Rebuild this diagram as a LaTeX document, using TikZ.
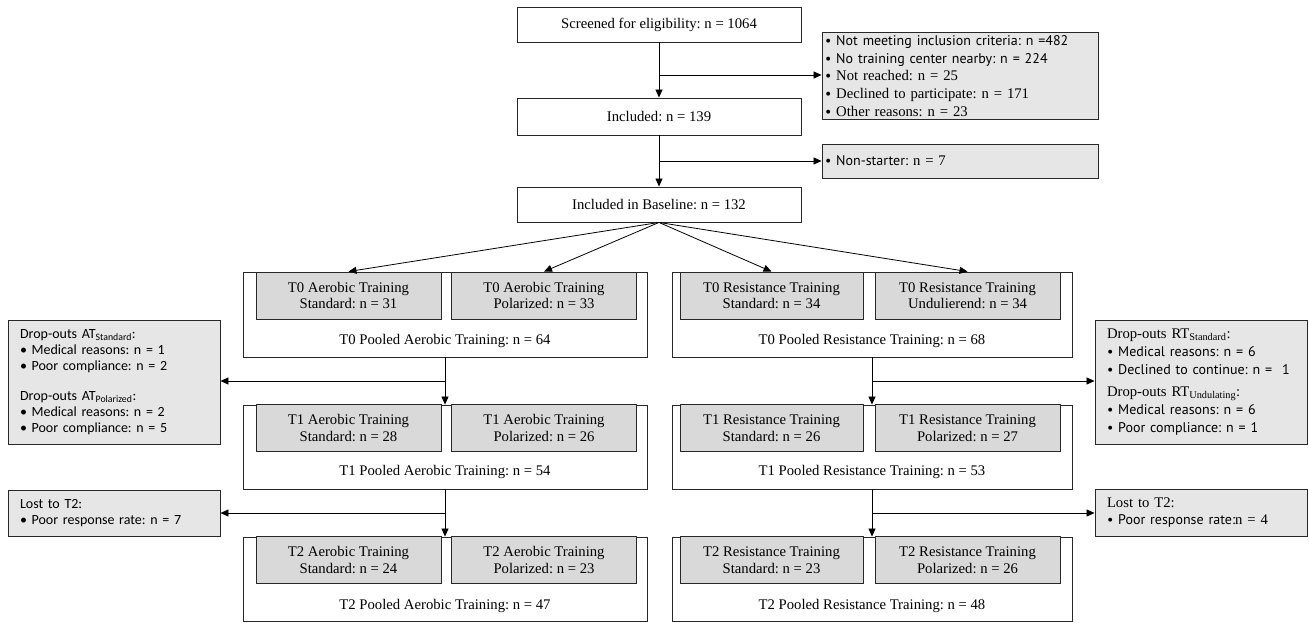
\documentclass[tikz,border=0pt]{standalone}
\usepackage{fontspec}
\setmainfont{Liberation Serif}
\newfontfamily\calfont{Carlito}
\newfontfamily\myfont{PT Sans}
\newcommand{\mysans}{\myfont\fontsize{14}{16}\selectfont}
\usetikzlibrary{arrows.meta}
\definecolor{sidegray}{RGB}{230,230,230}
\definecolor{innergray}{RGB}{217,217,217}
\definecolor{edge}{RGB}{40,40,40}
\frenchspacing
\begin{document}
\frenchspacing
\begin{tikzpicture}[x=1pt,y=-1pt,
  every node/.style={font=\fontsize{14.7}{16.5}\selectfont},
  wbox/.style={draw=edge, line width=0.9pt, fill=white, inner sep=0pt, align=center},
  ibox/.style={draw=edge, line width=0.9pt, fill=innergray, inner sep=0pt, align=center, minimum width=185pt, minimum height=47pt},
  gbox/.style={draw=edge, line width=0.9pt, fill=sidegray, inner sep=3pt, align=left},
  arr/.style={line width=0.8pt, -{Triangle[length=8pt,width=7pt]}},
  ln/.style={line width=0.8pt}]
\useasboundingbox (0,0) rectangle (1309,623);

% top chain
\node[wbox, minimum width=284pt, minimum height=35pt] (scr) at (659,24.5) {Screened for eligibility: n = 1064};
\node[wbox, minimum width=284pt, minimum height=37pt] (inc) at (659,116.5) {Included: n = 139};
\node[wbox, minimum width=284pt, minimum height=35pt] (base) at (659,204.5) {Included in Baseline: n = 132};

\node[gbox, text width=270pt, minimum height=86pt, font=\fontsize{14.7}{17.7}\selectfont] (excl) at (960,76)
 {{\mysans • Not meeting inclusion criteria: n =482}\\
  {\mysans • No training center nearby: n = 224}\\
  {\mysans •} Not reached: n = 25\\
  {\mysans •} Declined to participate: n = 171\\
  {\mysans •} Other reasons: n = 23};
\node[gbox, text width=270pt, minimum height=34pt] (nonst) at (960,161)
 {{\mysans • Non-starter:} n = 7};

\coordinate (b1) at (659,75);
\coordinate (b2) at (659,161);
\draw[arr] (scr.south) -- (inc.north);
\draw[arr] (b1) -- (excl.west |- b1);
\draw[arr] (inc.south) -- (base.north);
\draw[arr] (b2) -- (nonst.west |- b2);

% T0 outer boxes
\node[wbox, minimum width=404pt, minimum height=85pt] (oa0) at (445,314.5) {};
\node[wbox, minimum width=400pt, minimum height=85pt] (or0) at (872,314.5) {};
\node (pa0) at (445,341) {T0 Pooled Aerobic Training: n = 64};
\node (pr0) at (872,341) {T0 Pooled Resistance Training: n = 68};
\node[ibox] (a0s) at (348.5,295.5) {T0 Aerobic Training\\Standard: n = 31};
\node[ibox] (a0p) at (544,295.5) {T0 Aerobic Training\\Polarized: n = 33};
\node[ibox, minimum width=183pt] (r0s) at (771.5,295.5) {T0 Resistance Training\\Standard: n = 34};
\node[ibox] (r0u) at (967.5,295.5) {T0 Resistance Training\\Undulierend: n = 34};

\draw[arr] (base.south) -- (a0s.north);
\draw[arr] (base.south) -- (a0p.north);
\draw[arr] (base.south) -- (r0s.north);
\draw[arr] (base.south) -- (r0u.north);

% T1
\node[wbox, minimum width=404pt, minimum height=84pt] (oa1) at (445,447) {};
\node[wbox, minimum width=400pt, minimum height=84pt] (or1) at (872,447) {};
\node (pa1) at (445,472) {T1 Pooled Aerobic Training: n = 54};
\node (pr1) at (872,472) {T1 Pooled Resistance Training: n = 53};
\node[ibox] (a1s) at (348.5,428) {T1 Aerobic Training\\Standard: n = 28};
\node[ibox] (a1p) at (544,428) {T1 Aerobic Training\\Polarized: n = 26};
\node[ibox, minimum width=183pt] (r1s) at (771.5,428) {T1 Resistance Training\\Standard: n = 26};
\node[ibox] (r1p) at (967.5,428) {T1 Resistance Training\\Polarized: n = 27};

% T2
\node[wbox, minimum width=404pt, minimum height=84pt] (oa2) at (445,579) {};
\node[wbox, minimum width=400pt, minimum height=84pt] (or2) at (872,579) {};
\node (pa2) at (445,606) {T2 Pooled Aerobic Training: n = 47};
\node (pr2) at (872,606) {T2 Pooled Resistance Training: n = 48};
\node[ibox] (a2s) at (348.5,560) {T2 Aerobic Training\\Standard: n = 24};
\node[ibox] (a2p) at (544,560) {T2 Aerobic Training\\Polarized: n = 23};
\node[ibox, minimum width=183pt] (r2s) at (771.5,560) {T2 Resistance Training\\Standard: n = 23};
\node[ibox] (r2p) at (967.5,560) {T2 Resistance Training\\Polarized: n = 26};

% side boxes
\node[gbox, text width=188pt, minimum height=124pt, inner xsep=12pt, font=\calfont\fontsize{14}{16}\selectfont] (da) at (114,382)
 {Drop-outs AT\textsubscript{Standard}:\\
  • Medical reasons: n = 1\\
  • Poor compliance: n = 2\\[14pt]
  Drop-outs AT\textsubscript{Polarized}:\\
  • Medical reasons: n = 2\\
  • Poor compliance: n = 5};
\node[gbox, text width=188pt, minimum height=124pt, inner xsep=12pt, font=\fontsize{14.7}{18}\selectfont] (dr) at (1201,382)
 {Drop-outs RT\textsubscript{Standard}:\\
  {\mysans • Medical reasons: n = 6}\\
  {\mysans • Declined to continue: n =\ \ 1}\\[4pt]
  Drop-outs RT\textsubscript{Undulating}:\\
  {\mysans • Medical reasons: n = 6}\\
  {\mysans • Poor compliance: n = 1}};
\node[gbox, text width=188pt, minimum height=46pt, inner xsep=12pt, font=\calfont\fontsize{14}{16}\selectfont] (la) at (114,513)
 {Lost to T2:\\
  • Poor response rate: n = 7};
\node[gbox, text width=188pt, minimum height=47pt, inner xsep=12pt, font=\fontsize{14.7}{16.5}\selectfont] (lr) at (1201,512.5)
 {Lost to T2:\\
  {\mysans • Poor response rate:}n = 4};

% connectors between levels
\coordinate (ba1) at (445,381);
\coordinate (br1) at (872,381);
\coordinate (ba2) at (445,513);
\coordinate (br2) at (872,513);
\draw[arr] (oa0.south) -- (oa1.north);
\draw[arr] (or0.south) -- (or1.north);
\draw[arr] (oa1.south) -- (oa2.north);
\draw[arr] (or1.south) -- (or2.north);
\draw[arr] (ba1) -- (da.east |- ba1);
\draw[arr] (br1) -- (dr.west |- br1);
\draw[arr] (ba2) -- (la.east |- ba2);
\draw[arr] (br2) -- (lr.west |- br2);
\end{tikzpicture}
\end{document}
